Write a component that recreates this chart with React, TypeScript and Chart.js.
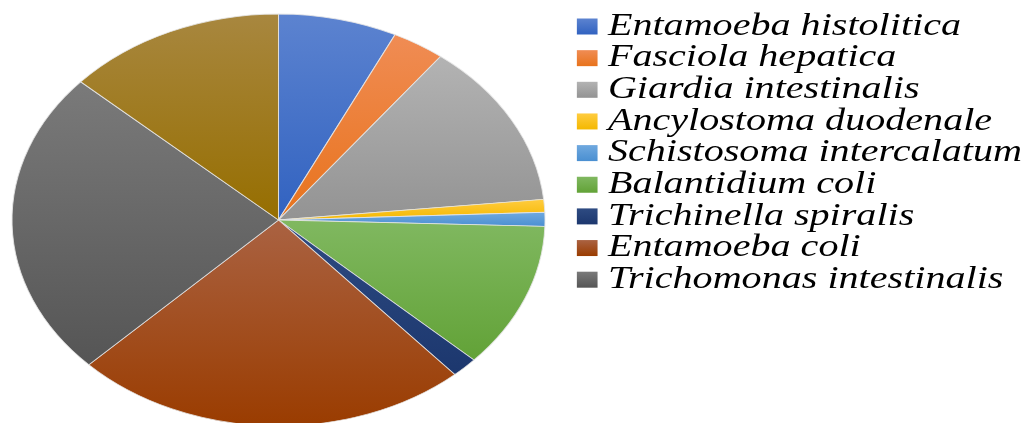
import React, { useEffect, useRef } from 'react';
import { Chart, registerables } from 'chart.js';

Chart.register(...registerables);

// ---- data ----
const categories: string[] = [
  'Entamoeba histolitica',
  'Fasciola hepatica',
  'Giardia intestinalis',
  'Ancylostoma duodenale',
  'Schistosoma intercalatum',
  'Balantidium coli',
  'Trichinella spiralis',
  'Entamoeba coli',
  'Trichomonas intestinalis',
  '',
];
const values: number[] = [7.2, 3.2, 13.0, 1.0, 1.1, 11.4, 1.6, 24.1, 24.1, 13.3];

// ---- styles ----
const topColors: string[] = [
  '#5c83d0', '#f08c54', '#b3b3b3', '#ffcc40', '#70a9df',
  '#80b860', '#2e4b82', '#aa6242', '#7a7a7a', '#a8873f',
];
const bottomColors: string[] = [
  '#3162c0', '#e8731c', '#939393', '#f4b800', '#4a8fd1',
  '#62a237', '#1c376e', '#9a3c00', '#555555', '#966e00',
];

const SX = 1.2937; // horizontal stretch of the whole picture
const PIE_CX = 278.5 / SX;
const PIE_CY = 220;
const PIE_R = 206;
const FONT_SIZE = 31;
const LEGEND_PAD = 0.65;
const LEGEND_TOP = 10.35;
const BOX_H = 16;
const BOX_W = 1;
const LEGEND_LEFT = 453.4 - LEGEND_PAD;
const FONT_FAMILY = '"Liberation Serif", "Times New Roman", Times, serif';

function sliceGradient(context: any) {
  const i = context.dataIndex;
  const chart = context.chart;
  const area = chart.chartArea;
  if (i === undefined || i === null || !area) return bottomColors[0];
  const data: number[] = chart.data.datasets[0].data;
  const total = data.reduce((s, v) => s + v, 0);
  let before = 0;
  for (let k = 0; k < i; k++) before += data[k];
  const cy = (area.top + area.bottom) / 2;
  const a0 = -Math.PI / 2 + (2 * Math.PI * before) / total;
  const a1 = a0 + (2 * Math.PI * data[i]) / total;
  let ymin = cy;
  let ymax = cy;
  for (let k = 0; k <= 60; k++) {
    const t = a0 + ((a1 - a0) * k) / 60;
    const y = cy + PIE_R * Math.sin(t);
    if (y < ymin) ymin = y;
    if (y > ymax) ymax = y;
  }
  const g = chart.ctx.createLinearGradient(0, ymin, 0, ymax + 0.01);
  g.addColorStop(0, topColors[i]);
  g.addColorStop(1, bottomColors[i]);
  return g;
}

// stretches the whole drawing horizontally; the legend (drawn before the
// datasets) is drawn without its box clip so the square markers can sit
// close to the text.
const stretchPlugin = {
  id: 'stretch',
  beforeDraw(chart: any) {
    const ctx = chart.ctx;
    ctx.save();
    ctx.scale(SX, 1);
    chart.$origClip = ctx.clip;
    ctx.clip = function () {};
  },
  beforeDatasetsDraw(chart: any) {
    if (chart.$origClip) {
      chart.ctx.clip = chart.$origClip;
      chart.$origClip = null;
    }
  },
  afterDraw(chart: any) {
    if (chart.$origClip) {
      chart.ctx.clip = chart.$origClip;
      chart.$origClip = null;
    }
    chart.ctx.restore();
  },
};

const placePlugin = {
  id: 'place',
  afterLayout(chart: any) {
    const a = chart.chartArea;
    a.left = PIE_CX - PIE_R;
    a.right = PIE_CX + PIE_R;
    a.top = PIE_CY - PIE_R;
    a.bottom = PIE_CY + PIE_R;
    a.width = 2 * PIE_R;
    a.height = 2 * PIE_R;
    const lg = chart.legend;
    if (lg) {
      lg.left = LEGEND_LEFT;
      lg.top = LEGEND_TOP;
      lg.right = LEGEND_LEFT + 420;
      lg.bottom = LEGEND_TOP + 330;
      lg.width = 420;
      lg.height = 330;
    }
  },
};

export default function App() {
  const ref = useRef<HTMLCanvasElement | null>(null);

  useEffect(() => {
    let chart: Chart | null = null;
    let cancelled = false;

    const build = () => {
      if (cancelled || !ref.current) return;
      chart = new Chart(ref.current, {
        type: 'pie',
        data: {
          labels: categories,
          datasets: [
            {
              data: values,
              backgroundColor: sliceGradient as any,
              borderColor: 'rgba(230,230,230,0.85)',
              borderWidth: 0.8,
              radius: PIE_R,
            } as any,
          ],
        },
        options: {
          animation: false,
          responsive: false,
          devicePixelRatio: 1,
          events: [],
          layout: { padding: 0 },
          plugins: {
            tooltip: { enabled: false },
            legend: {
              display: true,
              position: 'right',
              align: 'start',
              labels: {
                usePointStyle: true,
                boxWidth: BOX_W,
                boxHeight: BOX_H,
                padding: LEGEND_PAD,
                color: '#000000',
                font: {
                  family: FONT_FAMILY,
                  size: FONT_SIZE,
                  style: 'italic',
                },
                generateLabels: (c: any) => {
                  const items: any[] = [];
                  let k = 0;
                  categories.forEach((text, i) => {
                    if (text === '') return;
                    const yTop =
                      LEGEND_TOP + LEGEND_PAD + k * (FONT_SIZE + LEGEND_PAD) + (FONT_SIZE - BOX_H) / 2;
                    const g = c.ctx.createLinearGradient(0, yTop, 0, yTop + BOX_H);
                    g.addColorStop(0, topColors[i]);
                    g.addColorStop(1, bottomColors[i]);
                    items.push({
                      text,
                      index: i,
                      datasetIndex: 0,
                      hidden: false,
                      fillStyle: g,
                      strokeStyle: 'rgba(0,0,0,0)',
                      lineWidth: 0,
                      pointStyle: 'rect',
                      rotation: 0,
                      fontColor: '#000000',
                    });
                    k++;
                  });
                  return items;
                },
              },
            },
          },
        } as any,
        plugins: [stretchPlugin, placePlugin],
      });
    };

    const fonts: any = (document as any).fonts;
    if (fonts && fonts.load) {
      fonts
        .load(`italic ${FONT_SIZE}px "Liberation Serif"`)
        .then(build, build);
    } else {
      build();
    }

    return () => {
      cancelled = true;
      if (chart) chart.destroy();
    };
  }, []);

  return (
    <div style={{ position: 'absolute', left: 0, top: 0, width: 1021, height: 423, overflow: 'hidden', background: '#ffffff' }}>
      <canvas ref={ref} width={1021} height={423} style={{ display: 'block', width: 1021, height: 423 }} />
    </div>
  );
}
